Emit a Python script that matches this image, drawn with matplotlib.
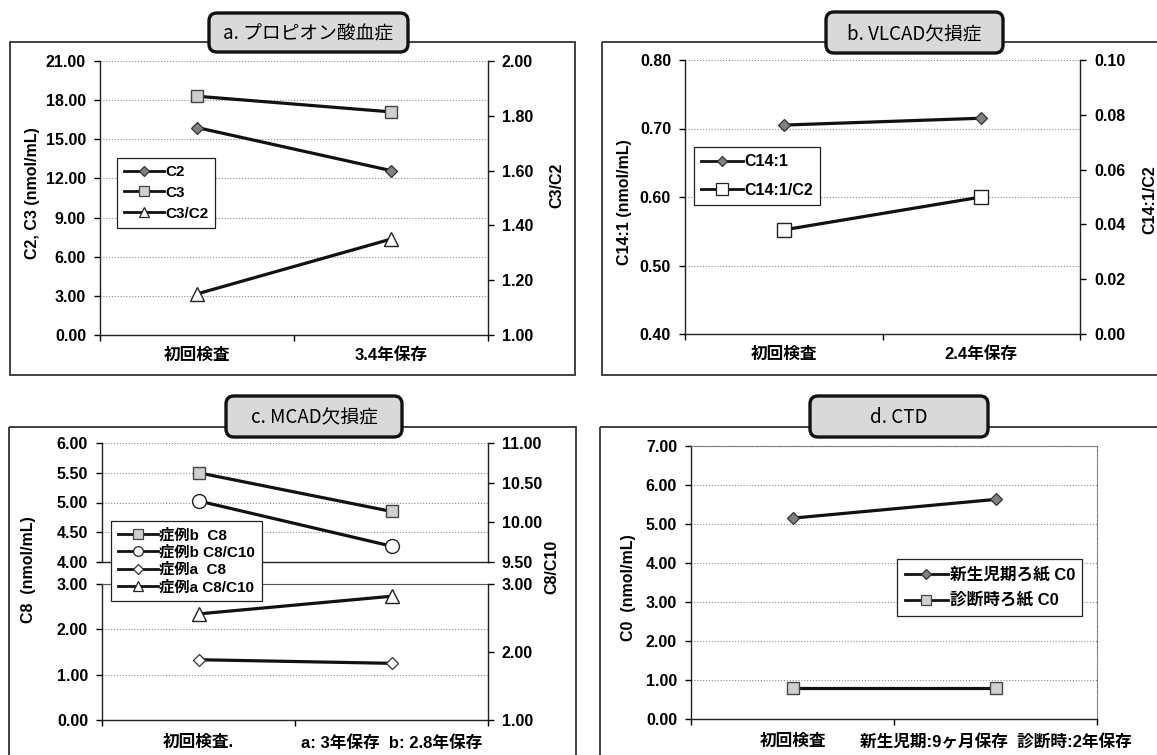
import matplotlib
matplotlib.use("Agg")
import matplotlib.pyplot as plt
from matplotlib.patches import FancyBboxPatch, Rectangle
from matplotlib.ticker import FormatStrFormatter
from matplotlib.lines import Line2D

plt.rcParams['font.family'] = ['Liberation Sans', 'Noto Sans CJK JP']
plt.rcParams['font.weight'] = 'bold'
plt.rcParams['axes.unicode_minus'] = False

# ---- data -------------------------------------------------------------
cats_a = ['初回検査', '3.4年保存']
a_c2 = [15.9, 12.6]
a_c3 = [18.3, 17.1]
a_c3_c2 = [1.15, 1.35]

cats_b = ['初回検査', '2.4年保存']
b_c14_1 = [0.705, 0.715]
b_c14_1_c2 = [0.038, 0.050]

cats_c = ['初回検査.', 'a: 3年保存  b: 2.8年保存']
c_caseb_c8 = [5.50, 4.85]
c_caseb_c8_c10 = [10.27, 9.70]
c_casea_c8 = [1.33, 1.25]
c_casea_c8_c10 = [2.56, 2.82]

cats_d = ['初回検査', '新生児期:9ヶ月保存  診断時:2年保存']
d_newborn_c0 = [5.15, 5.63]
d_diag_c0 = [0.80, 0.80]

titles = ['a. プロピオン酸血症', 'b. VLCAD欠損症', 'c. MCAD欠損症', 'd. CTD']

# ---- figure -----------------------------------------------------------
W, H = 1157, 755
fig = plt.figure(figsize=(W / 100, H / 100), dpi=100)
fig.patch.set_facecolor('white')

TICK_FS = 11.5
CAT_FS = 12
LAB_FS = 11.5


def rect(l, t, r, b):
    return [l / W, 1 - b / H, (r - l) / W, (b - t) / H]


# overlay in pixel units for frames, title boxes and axis titles
ov = fig.add_axes([0, 0, 1, 1], zorder=-1)
ov.set_xlim(0, W)
ov.set_ylim(H, 0)
ov.axis('off')

FRAME = '#333333'
for (l, t, r, b) in [(10, 42, 575, 375), (602, 42, 1162, 375),
                     (9, 427, 576, 762), (600, 427, 1162, 762)]:
    ov.add_patch(Rectangle((l, t), r - l, b - t, fill=False,
                           ec=FRAME, lw=1.3))

for (l, t, r, b), txt in zip([(209, 13, 408, 52), (826, 12, 1003, 53),
                              (226, 396, 402, 437), (810, 396, 988, 437)],
                             titles):
    ov.add_patch(FancyBboxPatch((l, t), r - l, b - t,
                                boxstyle='round,pad=0,rounding_size=8',
                                fc='#d9d9d9', ec='#111111', lw=2.4))
    ov.text((l + r) / 2, (t + b) / 2 + 1, txt, ha='center', va='center',
            fontsize=13.5, fontweight='normal',
            family=['Noto Sans CJK JP', 'DejaVu Sans'])

# axis titles
axis_titles = [
    (33, 193, 'C2, C3 (nmol/mL)'), (557, 185, 'C3/C2'),
    (624, 202, 'C14:1 (nmol/mL)'), (1150, 200, 'C14:1/C2'),
    (28, 570, 'C8  (nmol/mL)'), (552, 567, 'C8/C10'),
    (628, 588, 'C0  (nmol/mL)'),
]
for x, y, s in axis_titles:
    ov.text(x, y, s, rotation=90, ha='center', va='center', fontsize=LAB_FS,
            fontweight='bold')

LINE = dict(color='#111111', lw=2.3)
GRID = dict(ls=(0, (1, 1.6)), color='#8a8a8a', lw=0.8)
X = [0.5, 1.5]


def base_axes(pos, ylim, yticks, cats=None, pad=9):
    ax = fig.add_axes(pos)
    ax.set_xlim(0, 2)
    ax.set_ylim(*ylim)
    ax.set_yticks(yticks)
    ax.yaxis.set_major_formatter(FormatStrFormatter('%.2f'))
    ax.tick_params(axis='y', length=4, width=1, pad=6, labelsize=TICK_FS)
    ax.yaxis.grid(True, **GRID)
    ax.set_axisbelow(True)
    for s in ('left', 'bottom'):
        ax.spines[s].set_color('#222222')
        ax.spines[s].set_linewidth(1.0)
    ax.spines['top'].set_visible(False)
    ax.spines['right'].set_visible(False)
    if cats is not None:
        ax.set_xticks([0, 1, 2])
        ax.set_xticklabels([])
        ax.tick_params(axis='x', which='major', length=4, width=1)
        ax.set_xticks(X, minor=True)
        ax.set_xticklabels(cats, minor=True)
        ax.tick_params(axis='x', which='minor', length=0, pad=pad,
                       labelsize=CAT_FS)
    else:
        ax.tick_params(axis='x', bottom=False, labelbottom=False)
    return ax


def right_axes(ax, ylim, yticks):
    ax2 = ax.twinx()
    ax2.set_ylim(*ylim)
    ax2.set_yticks(yticks)
    ax2.yaxis.set_major_formatter(FormatStrFormatter('%.2f'))
    ax2.tick_params(axis='y', length=4, width=1, pad=6, labelsize=TICK_FS)
    for s in ('left', 'top', 'bottom'):
        ax2.spines[s].set_visible(False)
    ax2.spines['right'].set_color('#222222')
    ax2.spines['right'].set_linewidth(1.0)
    return ax2


def diamond(fc):
    return dict(marker='D', ms=6.5, mfc=fc, mec='#333333', mew=0.9)


SQUARE = dict(marker='s', ms=8.5, mfc='#cfcfcf', mec='#444444', mew=1.0)
SQUARE_W = dict(marker='s', ms=10, mfc='white', mec='#222222', mew=1.0)
TRI = dict(marker='^', ms=10, mfc='white', mec='#222222', mew=1.0)
CIRC = dict(marker='o', ms=10, mfc='white', mec='#222222', mew=1.0)


def small(h, ms):
    return Line2D([], [], color='#111111', lw=2.0, marker=h.get_marker(),
                  ms=ms, mfc=h.get_markerfacecolor(),
                  mec=h.get_markeredgecolor(), mew=0.9)


def legend(handles, labels, l, t, fs, spacing, hl=2.6):
    leg = fig.legend(handles, labels, loc='upper left',
                     bbox_to_anchor=(l / W, 1 - t / H), frameon=True,
                     fancybox=False, edgecolor='#222222', framealpha=1,
                     prop=dict(size=fs, weight='bold'),
                     labelspacing=spacing, handlelength=hl,
                     handletextpad=0.1, borderpad=0.45, borderaxespad=0)
    leg.get_frame().set_linewidth(0.9)
    return leg


# ---- a. propionic acidemia ----------------------------------------------
ax = base_axes(rect(100, 61, 488, 335), (0, 21), [0, 3, 6, 9, 12, 15, 18, 21],
               cats_a)
ax2 = right_axes(ax, (1.0, 2.0), [1.0, 1.2, 1.4, 1.6, 1.8, 2.0])
h1, = ax.plot(X, a_c2, **LINE, **diamond('#808080'))
h2, = ax.plot(X, a_c3, **LINE, **SQUARE)
h3, = ax2.plot(X, a_c3_c2, **LINE, **TRI)
legend([small(h1, 5.5), small(h2, 7), small(h3, 7.5)],
       ['C2', 'C3', 'C3/C2'], 117, 158, 11, 0.45)

# ---- b. VLCAD deficiency -----------------------------------------------
ax = base_axes(rect(685, 60, 1080, 334), (0.4, 0.8), [0.4, 0.5, 0.6, 0.7, 0.8],
               cats_b)
ax2 = right_axes(ax, (0.0, 0.1), [0, 0.02, 0.04, 0.06, 0.08, 0.10])
h1, = ax.plot(X, b_c14_1, **LINE, **diamond('#808080'))
h2, = ax2.plot(X, b_c14_1_c2, **LINE, **SQUARE_W)
legend([small(h1, 5.5), small(h2, 8)], ['C14:1', 'C14:1/C2'],
       694, 147, 11.5, 0.85)

# ---- c. MCAD deficiency (broken axis) ----------------------------------
axu = base_axes(rect(102, 443, 488, 562), (4.0, 6.0), [4.0, 4.5, 5.0, 5.5, 6.0])
axu2 = right_axes(axu, (9.5, 11.0), [9.5, 10.0, 10.5, 11.0])
axl = base_axes(rect(102, 584, 488, 720), (0.0, 3.0), [0, 1, 2, 3], cats_c,
                pad=11)
axl.spines['top'].set_visible(True)
axl.spines['top'].set_color('#555555')
axl2 = right_axes(axl, (1.0, 3.0), [1.0, 2.0, 3.0])
hb1, = axu.plot(X, c_caseb_c8, **LINE, **SQUARE)
hb2, = axu2.plot(X, c_caseb_c8_c10, **LINE, **CIRC)
ha1, = axl.plot(X, c_casea_c8, **LINE, **diamond('white'))
ha2, = axl2.plot(X, c_casea_c8_c10, **LINE, **TRI)
legend([small(hb1, 6.5), small(hb2, 7), small(ha1, 5), small(ha2, 6.5)],
       ['症例b  C8', '症例b C8/C10', '症例a  C8', '症例a C8/C10'],
       111, 521, 11, 0.2)

# ---- d. CTD --------------------------------------------------------------
ax = base_axes(rect(691, 446, 1097, 719), (0, 7), [0, 1, 2, 3, 4, 5, 6, 7],
               cats_d, pad=11)
for s in ('top', 'right'):
    ax.spines[s].set_visible(True)
    ax.spines[s].set_color('#777777')
    ax.spines[s].set_linestyle((0, (1, 1.2)))
h1, = ax.plot(X, d_newborn_c0, **LINE, **diamond('#808080'))
h2, = ax.plot(X, d_diag_c0, **LINE, **SQUARE)
legend([small(h1, 5.5), small(h2, 7)], ['新生児期ろ紙 C0', '診断時ろ紙 C0'],
       897, 559, 12, 0.6)

fig.savefig('out.png', dpi=100, facecolor='white')
